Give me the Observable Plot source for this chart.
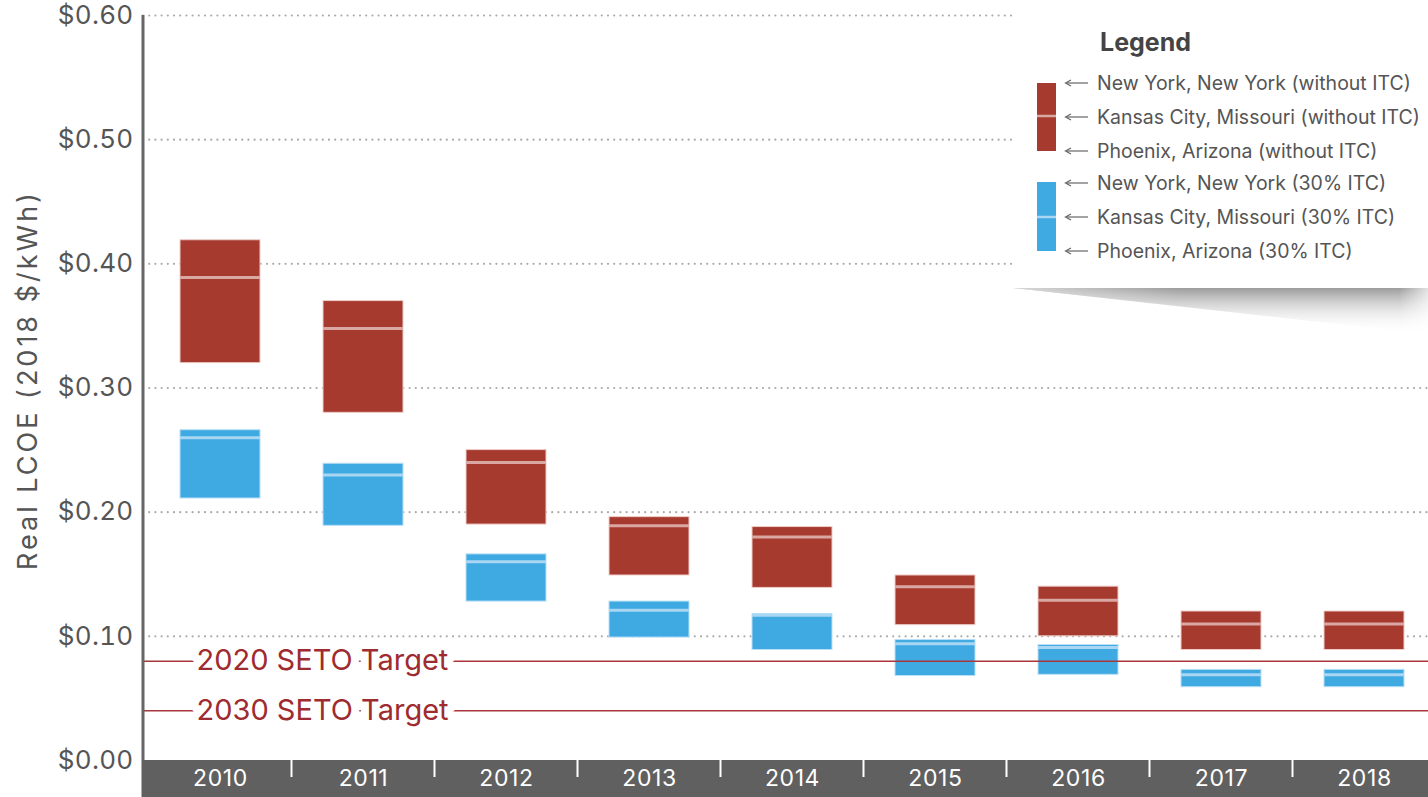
<!DOCTYPE html>
<html><head><meta charset="utf-8">
<script src="https://cdn.jsdelivr.net/npm/d3@7"></script>
<script src="https://cdn.jsdelivr.net/npm/@observablehq/plot@0.6"></script>
<style>
html,body{margin:0;padding:0;background:#fff;overflow:hidden;}
#wrap{position:relative;width:1428px;height:797px;font-family:Inter,"Open Sans",sans-serif;}
#wrap svg{position:absolute;left:0;top:0;}
#wrap g[aria-label="y-axis tick label"] text{letter-spacing:0.3px;}
#wrap g[aria-label="x-axis tick label"] text{letter-spacing:0.6px;}
</style></head><body><div id="wrap"></div>
<script>
// ---- data ----
const years = ["2010","2011","2012","2013","2014","2015","2016","2017","2018"];
// without ITC
const nyNoItc  = [0.419, 0.370, 0.250, 0.196, 0.188, 0.149, 0.140, 0.120, 0.120];
const kcNoItc  = [0.389, 0.348, 0.240, 0.189, 0.180, 0.140, 0.129, 0.110, 0.110];
const phxNoItc = [0.320, 0.280, 0.190, 0.149, 0.139, 0.109, 0.100, 0.089, 0.089];
// 30% ITC
const nyItc  = [0.266, 0.239, 0.166, 0.128, 0.118, 0.097, 0.093, 0.073, 0.073];
const kcItc  = [0.260, 0.230, 0.160, 0.121, 0.117, 0.094, 0.091, 0.069, 0.069];
const phxItc = [0.211, 0.189, 0.128, 0.099, 0.089, 0.068, 0.069, 0.059, 0.059];
const targetValues = [0.08, 0.04];
const targetLabels = ["2020 SETO Target", "2030 SETO Target"];
const yTicks = [0, 0.1, 0.2, 0.3, 0.4, 0.5, 0.6];
const legendLabels = [
  "New York, New York (without ITC)",
  "Kansas City, Missouri (without ITC)",
  "Phoenix, Arizona (without ITC)",
  "New York, New York (30% ITC)",
  "Kansas City, Missouri (30% ITC)",
  "Phoenix, Arizona (30% ITC)"
];
const yLabel = "Real LCOE (2018 $/kWh)";

const FONT = 'Inter, "Open Sans", sans-serif';
const RED = "#a63a2f", BLUE = "#3fa9e1";
const GREY_TXT = "#555";

const noItc = years.map((y, i) => ({year: y, hi: nyNoItc[i], mid: kcNoItc[i], lo: phxNoItc[i]}));
const itc = years.map((y, i) => ({year: y, hi: nyItc[i], mid: kcItc[i], lo: phxItc[i]}));
const targets = targetValues.map((v, i) => ({value: v, label: targetLabels[i]}));

// custom mark: dark axis band, boundary ticks, y axis line
function axisFrame(index, scales, values, dim) {
  const {width, height, marginLeft, marginTop, marginBottom} = dim;
  const g = d3.create("svg:g");
  g.append("rect")
    .attr("x", marginLeft - 1.5).attr("y", height - marginBottom)
    .attr("width", width - marginLeft + 1.5).attr("height", marginBottom)
    .attr("fill", "#606060");
  const sx = scales.x;
  const bw = typeof sx.bandwidth === "function" ? sx.bandwidth() : (sx.bandwidth || 0);
  const step = typeof sx.step === "function" ? sx.step() : (sx(years[1]) - sx(years[0]));
  years.slice(1).forEach(y => {
    const bx = sx(y) - (step - bw) / 2;
    g.append("line")
      .attr("x1", bx).attr("x2", bx)
      .attr("y1", height - marginBottom).attr("y2", height - marginBottom + 17)
      .attr("stroke", "white").attr("stroke-width", 2);
  });
  g.append("line")
    .attr("x1", marginLeft).attr("x2", marginLeft)
    .attr("y1", marginTop).attr("y2", height - marginBottom)
    .attr("stroke", "#666").attr("stroke-width", 3);
  return g.node();
}

const chart = Plot.plot({
  width: 1428,
  height: 797,
  marginLeft: 143,
  marginRight: 0,
  marginTop: 15,
  marginBottom: 37,
  style: {fontFamily: FONT, background: "transparent"},
  x: {type: "band", domain: years, range: [144.85, 1438.2], paddingInner: 0.443, paddingOuter: 0.2215},
  y: {domain: [0, 0.6]},
  marks: [
    Plot.ruleY(yTicks.filter(d => d > 0), {stroke: "#a9a9a9", strokeWidth: 2.2, strokeDasharray: "0,6.2", strokeLinecap: "round"}),
    Plot.rectY(noItc, {x: "year", y1: "lo", y2: "hi", fill: RED, stroke: "#efcdc9", strokeWidth: 1}),
    Plot.tickY(noItc, {x: "year", y: "mid", stroke: "#d9a8a3", strokeWidth: 3}),
    Plot.rectY(itc, {x: "year", y1: "lo", y2: "hi", fill: BLUE, stroke: "#b9e0f7", strokeWidth: 1}),
    Plot.tickY(itc, {x: "year", y: "mid", stroke: "#a9d7f3", strokeWidth: 3}),
    Plot.ruleY(targets, {y: "value", stroke: "#a8363a", strokeWidth: 1.5}),
    Plot.text(targets, {y: "value", text: "label", frameAnchor: "left", textAnchor: "start", dx: 53,
      fontSize: 29, fill: "#9e2b2f", stroke: "white", strokeWidth: 16, strokeLinejoin: "round", paintOrder: "stroke"}),
    axisFrame,
    Plot.axisX({tickSize: 0, tickPadding: 9, fontSize: 23, fill: "white", label: null}),
    Plot.axisY({ticks: yTicks, tickFormat: d => "$" + d.toFixed(2), tickSize: 0, tickPadding: 10, fontSize: 26, fill: GREY_TXT, label: null}),
    Plot.text([yLabel], {text: d => d, frameAnchor: "left", textAnchor: "middle", lineAnchor: "middle", rotate: -90, dx: -115, dy: -8, fontSize: 27, fill: GREY_TXT})
  ]
});

const wrap = document.getElementById("wrap");
wrap.appendChild(chart);
d3.select(chart).selectAll("text").filter(function() { return this.textContent === yLabel; })
  .style("letter-spacing", "3px");

// ---- legend overlay ----
const L = d3.create("svg").attr("width", 1428).attr("height", 797)
  .style("position", "absolute").style("left", "0px").style("top", "0px").style("pointer-events", "none");
const defs = L.append("defs");
const grad = defs.append("linearGradient").attr("id", "shadowGrad").attr("x1", 0).attr("y1", 0).attr("x2", 0).attr("y2", 1);
grad.append("stop").attr("offset", "0%").attr("stop-color", "#8a8a8a").attr("stop-opacity", 0.85);
grad.append("stop").attr("offset", "100%").attr("stop-color", "#ffffff").attr("stop-opacity", 0);
const gradH = defs.append("linearGradient").attr("id", "shadowFade").attr("x1", 0).attr("y1", 0).attr("x2", 1).attr("y2", 0);
gradH.append("stop").attr("offset", "0%").attr("stop-color", "white").attr("stop-opacity", 0.6);
gradH.append("stop").attr("offset", "40%").attr("stop-color", "white").attr("stop-opacity", 0);
gradH.append("stop").attr("offset", "93%").attr("stop-color", "white").attr("stop-opacity", 0);
gradH.append("stop").attr("offset", "100%").attr("stop-color", "white").attr("stop-opacity", 0.7);
L.append("polygon").attr("points", "1013,288 1428,288 1428,334").attr("fill", "url(#shadowGrad)");
L.append("polygon").attr("points", "1013,288 1428,288 1428,334").attr("fill", "url(#shadowFade)");
L.append("rect").attr("x", 1015).attr("y", 0).attr("width", 413).attr("height", 288).attr("fill", "white");
L.append("text").attr("x", 1100).attr("y", 51).text("Legend")
  .attr("font-family", FONT).attr("font-size", 25).attr("font-weight", 700).attr("fill", "#444");
const legendY = [83, 117, 151, 183, 217, 251];
// swatches
[[RED, 83, 151, 116, "#d9a8a3"], [BLUE, 182, 251, 217, "#a9d7f3"]].forEach(([c, y0, y1, ym, mc]) => {
  L.append("rect").attr("x", 1037).attr("y", y0).attr("width", 19).attr("height", y1 - y0).attr("fill", c);
  L.append("line").attr("x1", 1037).attr("x2", 1056).attr("y1", ym).attr("y2", ym).attr("stroke", mc).attr("stroke-width", 2.5);
});
legendLabels.forEach((lab, i) => {
  const y = legendY[i];
  L.append("line").attr("x1", 1066).attr("x2", 1088).attr("y1", y).attr("y2", y).attr("stroke", "#666").attr("stroke-width", 1.2);
  L.append("polyline").attr("points", `1071,${y - 3} 1065.5,${y} 1071,${y + 3}`).attr("fill", "none").attr("stroke", "#666").attr("stroke-width", 1.2);
  L.append("text").attr("x", 1097).attr("y", y).attr("dy", "0.35em").text(lab)
    .attr("font-family", FONT).attr("font-size", 19.5).attr("fill", GREY_TXT);
});
wrap.appendChild(L.node());
</script></body></html>
